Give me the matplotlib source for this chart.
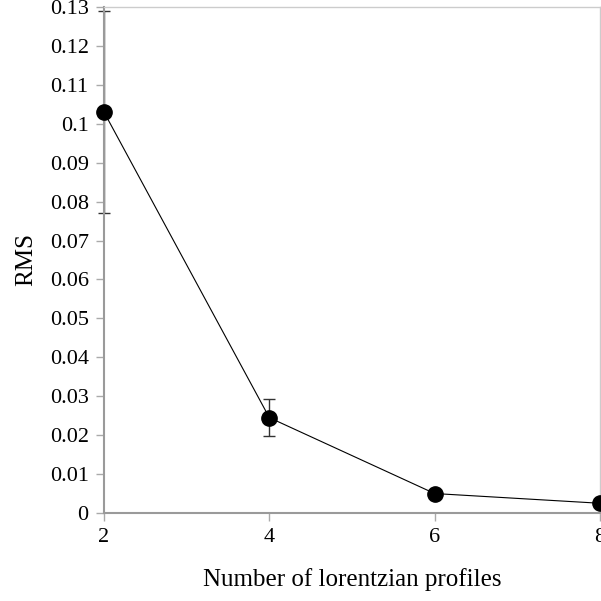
import matplotlib
matplotlib.use("Agg")
import matplotlib.pyplot as plt
from matplotlib.ticker import FuncFormatter

# valores
n_perfis = [2, 4, 6, 8]
rms = [0.103, 0.0245, 0.005, 0.0025]
erro = [0.026, 0.0047, 0.0009, 0.0004]

plt.rcParams['font.family'] = ['Liberation Serif', 'DejaVu Serif']

fig = plt.figure(figsize=(6.01, 6.01), dpi=100)
ax = fig.add_axes([104 / 601, 88 / 601, 496 / 601, 506 / 601])

ax.errorbar(n_perfis, rms, yerr=erro, fmt='none', ecolor='#333333',
            elinewidth=1.0, capsize=4.5, capthick=1.0, clip_on=False, zorder=2)
ax.plot(n_perfis, rms, color='black', linewidth=0.8, marker='o',
        markersize=11, markerfacecolor='black', clip_on=False, zorder=3)

ax.set_xlim(2, 8)
ax.set_ylim(0, 0.13)
ax.set_xticks(n_perfis)
ax.set_yticks([i / 100 for i in range(14)])
ax.yaxis.set_major_formatter(FuncFormatter(lambda v, p: '%g' % round(v, 2)))

for lado in ['left', 'bottom']:
    ax.spines[lado].set_color('#9a9a9a')
    ax.spines[lado].set_linewidth(1.5)
for lado in ['right', 'top']:
    ax.spines[lado].set_color('#cccccc')
    ax.spines[lado].set_linewidth(1.0)

ax.tick_params(direction='out', length=6, width=1, color='#aaaaaa',
               labelsize=16, pad=5)

ax.set_ylabel('RMS', fontsize=18, labelpad=9)
ax.set_xlabel('Number of lorentzian profiles', fontsize=18, labelpad=15)

fig.savefig('out.png', dpi=100)
